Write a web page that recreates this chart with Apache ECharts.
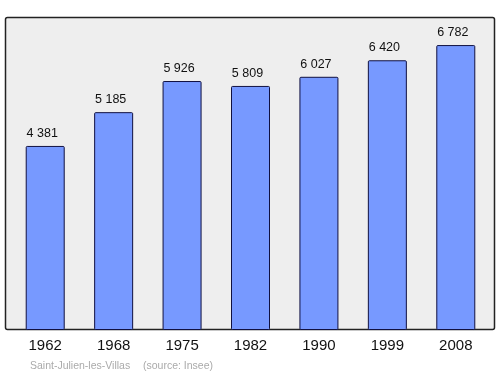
<!DOCTYPE html>
<html><head><meta charset="utf-8">
<script src="https://cdn.jsdelivr.net/npm/echarts@6/dist/echarts.min.js"></script>
<style>html,body{margin:0;padding:0;background:#fff}#c{width:500px;height:374px}</style>
</head><body><div id="c"></div>
<script>
var categories = ['1962','1968','1975','1982','1990','1999','2008'];
var population = [4381,5185,5926,5809,6027,6420,6782];
var labels = ['4 381','5 185','5 926','5 809','6 027','6 420','6 782'];
var chart = echarts.init(document.getElementById('c'), null, {renderer:'canvas'});
var ff = '"Liberation Sans", Arial, sans-serif';
chart.setOption({
  animation:false,
  graphic:[
    {type:'rect', z:-10, shape:{x:5.5,y:17.5,width:489,height:312,r:2}, style:{fill:'#eeeeee',stroke:'#222',lineWidth:1.5}},
    {type:'text', left:30, top:361, style:{text:'Saint-Julien-les-Villas', fill:'#aaaaaa', font:'10.5px ' + ff}},
    {type:'text', left:143, top:361, style:{text:'(source: Insee)', fill:'#aaaaaa', font:'10.5px ' + ff}}
  ],
  grid:{left:11, right:10, top:17, bottom:44},
  xAxis:{type:'category', data:categories, axisLine:{show:false}, axisTick:{show:false},
    axisLabel:{color:'#111', fontSize:15, margin:8, fontFamily:ff}},
  yAxis:{type:'value', min:0, max:7450, show:false, splitLine:{show:false}},
  series:[{type:'bar', data:population, barWidth:39,
    itemStyle:{color:'#7799ff', borderColor:'#101040', borderWidth:1, borderRadius:1},
    label:{show:true, position:'top', distance:6, offset:[-3,0], color:'#111', fontSize:12.5, fontFamily:ff,
      formatter:function(p){return labels[p.dataIndex];}}
  }]
});
</script></body></html>
